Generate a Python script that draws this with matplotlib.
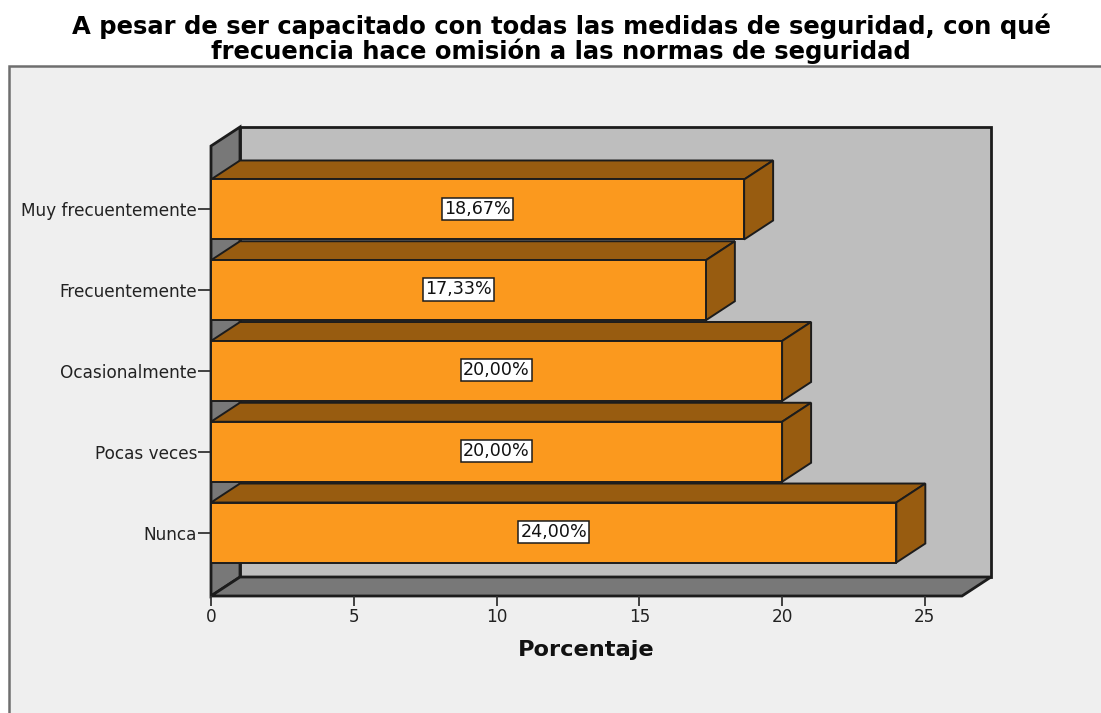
import matplotlib
matplotlib.use("Agg")
import matplotlib.pyplot as plt
from matplotlib.patches import Polygon, Rectangle

categories = ["Nunca", "Pocas veces", "Ocasionalmente", "Frecuentemente", "Muy frecuentemente"]
values = [24.00, 20.00, 20.00, 17.33, 18.67]
bar_labels = ["24,00%", "20,00%", "20,00%", "17,33%", "18,67%"]
x_ticks = [0, 5, 10, 15, 20, 25]
title = "A pesar de ser capacitado con todas las medidas de seguridad, con qué\nfrecuencia hace omisión a las normas de seguridad"
x_label = "Porcentaje"

W, H = 1101, 713
ORANGE, BROWN, WALL, SIDE, BG = "#FB991E", "#985C10", "#BEBEBE", "#787878", "#EFEFEF"
LINE = "#1c1c1c"
FONT = "DejaVu Sans"

fig = plt.figure(figsize=(W / 100, H / 100), dpi=100, facecolor="white")

# grey chart panel with its top and left border
panel = fig.add_axes([0, 0, 1, 1], zorder=0)
panel.set_xlim(0, W); panel.set_ylim(H, 0); panel.axis("off")
panel.add_patch(Rectangle((9, 66), W, H, facecolor=BG, edgecolor="#6e6e6e", lw=1.8))

L, R, T, B = 211, 962, 146, 596
ax = fig.add_axes([L / W, 1 - B / H, (R - L) / W, (B - T) / H], zorder=1)
ax.patch.set_visible(False)
for s in ax.spines.values():
    s.set_visible(False)
ax.set_xlim(0, 26.3)
ax.set_ylim(-0.786, 4.786)
ux = (R - L) / 26.3
uy = (B - T) / (4.786 + 0.786)
dx = 29 / ux   # depth offset, data units
dy = 19 / uy
bar_h = 60 / uy


def poly(pts, fc, lw=1.4, z=2):
    ax.add_patch(Polygon(pts, closed=True, facecolor=fc, edgecolor=LINE, lw=lw,
                         clip_on=False, zorder=z, joinstyle="miter"))


x0, x1 = ax.get_xlim()
y0, y1 = ax.get_ylim()
# back wall, left wall, floor
poly([(x0 + dx, y0 + dy), (x1 + dx, y0 + dy), (x1 + dx, y1 + dy), (x0 + dx, y1 + dy)], WALL, 2.0, 1)
poly([(x0, y0), (x0 + dx, y0 + dy), (x0 + dx, y1 + dy), (x0, y1)], SIDE, 2.0, 1.1)
poly([(x0, y0), (x1, y0), (x1 + dx, y0 + dy), (x0 + dx, y0 + dy)], SIDE, 2.0, 1.2)

# bars, back to front (top of the chart is the back)
n = len(values)
for i in range(n - 1, -1, -1):
    v = values[i]
    bot, top = i - bar_h / 2, i + bar_h / 2
    z = 2 + (n - i)
    poly([(0, top), (v, top), (v + dx, top + dy), (dx, top + dy)], BROWN, 1.4, z)
    poly([(v, bot), (v + dx, bot + dy), (v + dx, top + dy), (v, top)], BROWN, 1.4, z)
    ax.barh(i, v, height=bar_h, color=ORANGE, edgecolor=LINE, lw=1.4, zorder=z + 0.1, clip_on=False)
    ax.text(v / 2, i + 0.01, bar_labels[i], ha="center", va="center", fontsize=12.6, family=FONT,
            color="#111111", zorder=20,
            bbox=dict(boxstyle="square,pad=0.12", facecolor="white", edgecolor=LINE, lw=1.1))

ax.set_yticks(range(n), categories)
ax.set_xticks(x_ticks)
ax.tick_params(axis="y", length=9.5, width=1.3, color="#333333", pad=0.5, labelsize=12.2, labelcolor="#222222")
ax.tick_params(axis="x", length=7.5, width=1.3, color="#333333", pad=1, labelsize=12.2, labelcolor="#222222")
for lab in ax.get_xticklabels() + ax.get_yticklabels():
    lab.set_family(FONT)
ax.set_xlabel(x_label, fontsize=16.2, fontweight="bold", family=FONT, color="#111111")
ax.xaxis.set_label_coords((586 - L) / (R - L), -(650 - B) / (B - T), transform=ax.transAxes)
ax.xaxis.label.set_va("center")
ax.xaxis.label.set_ha("center")

fig.text(561 / W, 1 - 39 / H, title, ha="center", va="center", fontsize=17.5, fontweight="bold",
         family=FONT, color="black", linespacing=0.98)

fig.savefig("out.png", dpi=100, facecolor="white")
